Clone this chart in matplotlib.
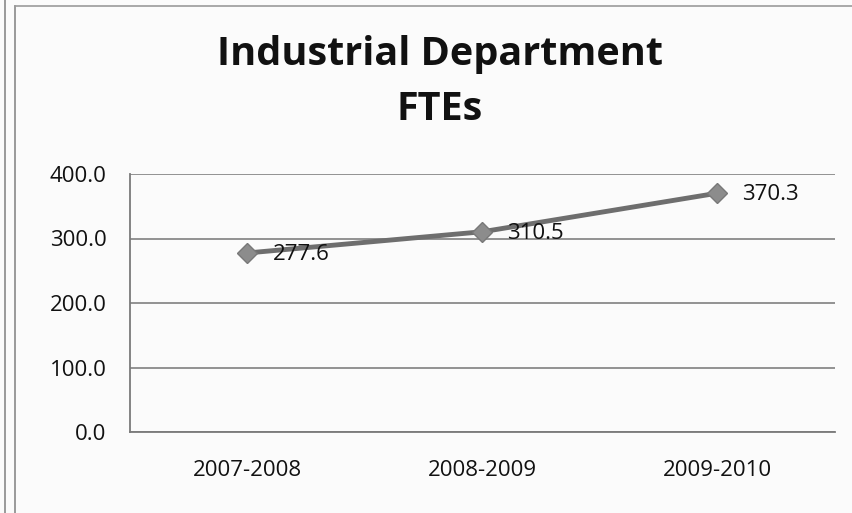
import matplotlib
matplotlib.use("Agg")
import matplotlib.pyplot as plt
from matplotlib.lines import Line2D

years = ["2007-2008", "2008-2009", "2009-2010"]
ftes = [277.6, 310.5, 370.3]
y_ticks = [0, 100, 200, 300, 400]

plt.rcParams["font.family"] = ["Open Sans", "DejaVu Sans"]

W, H = 853, 513
fig = plt.figure(figsize=(W / 100, H / 100), dpi=100)
fig.patch.set_facecolor("#fbfbfb")

# outer chart frame (double line at left, single line at top)
fig.add_artist(Line2D([5 / W, 5 / W], [0, 1], transform=fig.transFigure, color="#8a8a8a", lw=1.2))
fig.add_artist(Line2D([15 / W, 15 / W], [0, 1 - 6 / H], transform=fig.transFigure, color="#8a8a8a", lw=1.2))
fig.add_artist(Line2D([15 / W, 1], [1 - 6 / H, 1 - 6 / H], transform=fig.transFigure, color="#9a9a9a", lw=1.2))

left, right, top, bottom = 130, 835, 174, 432
ax = fig.add_axes([left / W, 1 - bottom / H, (right - left) / W, (bottom - top) / H])
ax.set_facecolor("none")

x = list(range(len(years)))
ax.plot(x, ftes, color="#6e6e6e", lw=3.5, marker="D", markersize=10,
        markerfacecolor="#8c8c8c", markeredgecolor="#787878", zorder=3)

for xi, v in zip(x, ftes):
    ax.annotate(f"{v:.1f}", (xi, v), xytext=(18, -1), textcoords="offset points",
                ha="left", va="center", fontsize=16, color="#111111", zorder=4)

ax.set_xlim(-0.5, len(years) - 0.5)
ax.set_ylim(0, 400)
ax.set_yticks(y_ticks)
ax.set_yticklabels([f"{t:.1f}" for t in y_ticks], fontsize=16, color="#111111")
ax.set_xticks(x)
ax.set_xticklabels(years, fontsize=16, color="#111111")
ax.tick_params(axis="y", length=0, pad=17)
ax.tick_params(axis="x", length=0, pad=20)

ax.grid(axis="y", color="#8a8a8a", lw=1.3)
ax.set_axisbelow(True)
for s in ["top", "right"]:
    ax.spines[s].set_visible(False)
for s in ["left", "bottom"]:
    ax.spines[s].set_color("#7a7a7a")
    ax.spines[s].set_linewidth(1.3)

fig.text(440 / W, 1 - 55 / H, "Industrial Department", ha="center", va="center",
         fontsize=28.5, fontweight="bold", color="#111111")
fig.text(440 / W, 1 - 110 / H, "FTEs", ha="center", va="center",
         fontsize=28.5, fontweight="bold", color="#111111")

fig.savefig("out.png", dpi=100, facecolor=fig.get_facecolor())
